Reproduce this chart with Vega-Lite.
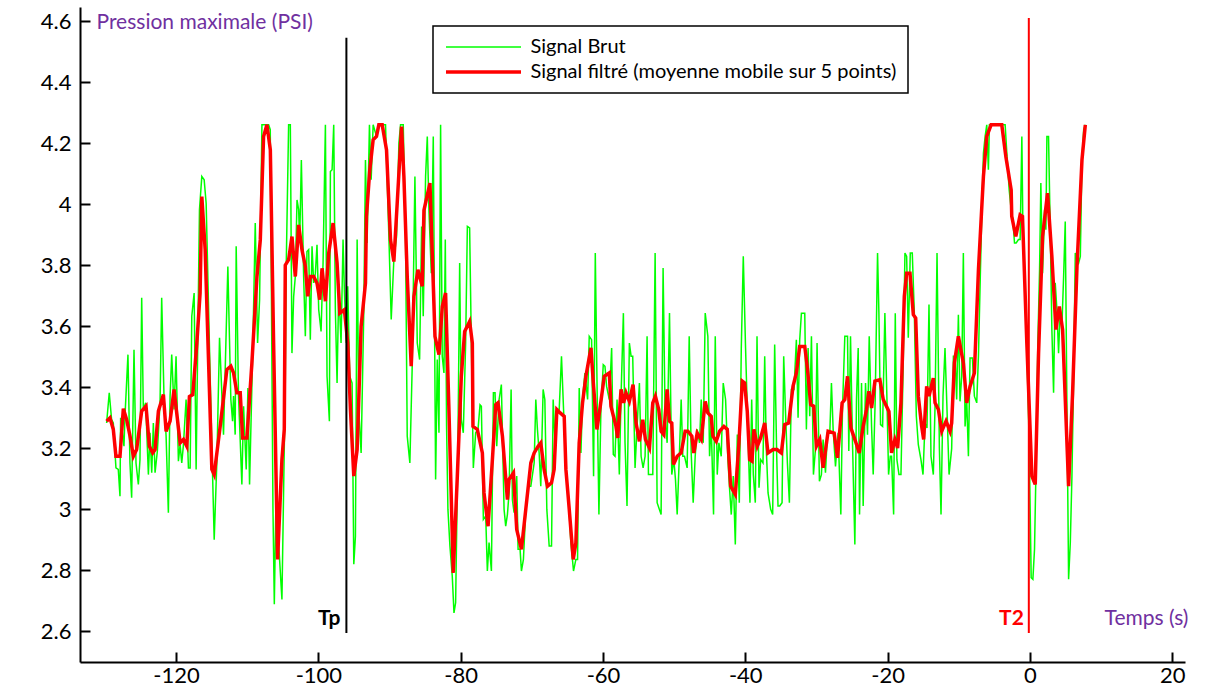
{
"$schema": "https://vega.github.io/schema/vega-lite/v6.json",
"width": 1105, "height": 655,
"autosize": {"type": "none"},
"padding": {"left": 80, "top": 7, "right": 39, "bottom": 32},
"background": "white",
"config": {"view": {"stroke": null}, "font": "Lato",
 "axis": {"grid": false, "domainColor": "black", "domainWidth": 2, "tickColor": "black", "tickWidth": 2, "tickSize": -10, "labelColor": "black", "labelFont": "Lato", "labelFontSize": 22, "labelOverlap": false, "labelFlush": false, "titleFont": "Lato", "titleFontWeight": "normal", "titleColor": "#7030A0", "titleFontSize": 21}},
"datasets": {
"brut": [
{"t":-129.76,"v":3.283},{"t":-129.39,"v":3.382},{"t":-129.06,"v":3.294},{"t":-128.82,"v":3.283},{"t":-128.45,"v":3.136},{"t":-128.12,"v":3.131},{"t":-127.88,"v":3.043},{"t":-127.79,"v":3.30},{"t":-127.32,"v":3.207},{"t":-127.18,"v":3.305},{"t":-126.76,"v":3.507},{"t":-126.48,"v":3.152},{"t":-126.24,"v":3.038},{"t":-125.91,"v":3.523},{"t":-125.63,"v":3.152},{"t":-125.30,"v":3.082},{"t":-125.07,"v":3.163},{"t":-124.83,"v":3.693},{"t":-124.60,"v":3.327},{"t":-124.27,"v":3.349},{"t":-123.89,"v":3.114},{"t":-123.66,"v":3.251},{"t":-123.42,"v":3.12},{"t":-123.19,"v":3.283},{"t":-122.95,"v":3.12},{"t":-122.63,"v":3.191},{"t":-122.25,"v":3.349},{"t":-122.02,"v":3.693},{"t":-121.69,"v":3.365},{"t":-121.40,"v":3.24},{"t":-121.08,"v":2.989},{"t":-120.84,"v":3.371},{"t":-120.61,"v":3.507},{"t":-120.28,"v":3.327},{"t":-120.00,"v":3.502},{"t":-119.67,"v":3.158},{"t":-119.43,"v":3.212},{"t":-119.20,"v":3.152},{"t":-118.96,"v":3.212},{"t":-118.59,"v":3.36},{"t":-118.26,"v":3.136},{"t":-118.02,"v":3.136},{"t":-117.79,"v":3.633},{"t":-117.46,"v":3.709},{"t":-117.18,"v":3.131},{"t":-116.71,"v":3.982},{"t":-116.38,"v":4.091},{"t":-116.05,"v":4.080},{"t":-115.77,"v":4.003},{"t":-115.21,"v":3.436},{"t":-114.64,"v":2.901},{"t":-114.27,"v":3.152},{"t":-113.89,"v":3.562},{"t":-113.33,"v":3.245},{"t":-112.72,"v":3.796},{"t":-112.30,"v":3.36},{"t":-112.06,"v":3.289},{"t":-111.92,"v":3.371},{"t":-111.69,"v":3.245},{"t":-111.55,"v":3.862},{"t":-111.22,"v":3.371},{"t":-110.75,"v":3.082},{"t":-110.51,"v":3.338},{"t":-110.14,"v":3.131},{"t":-109.90,"v":3.398},{"t":-109.67,"v":3.082},{"t":-109.20,"v":3.545},{"t":-108.87,"v":3.938},{"t":-108.54,"v":3.545},{"t":-108.26,"v":3.687},{"t":-107.93,"v":4.26},{"t":-107.46,"v":4.26},{"t":-106.99,"v":4.26},{"t":-106.76,"v":4.244},{"t":-106.38,"v":3.0},{"t":-106.19,"v":2.689},
{"t":-105.91,"v":3.109},{"t":-105.59,"v":2.891},{"t":-105.12,"v":2.705},{"t":-104.65,"v":3.414},{"t":-104.51,"v":3.807},{"t":-104.18,"v":4.26},{"t":-103.94,"v":4.26},{"t":-103.71,"v":3.512},{"t":-103.47,"v":3.698},{"t":-103.24,"v":3.763},{"t":-103.00,"v":4.014},{"t":-102.77,"v":3.982},{"t":-102.63,"v":3.873},{"t":-102.39,"v":4.145},{"t":-102.07,"v":3.763},{"t":-101.83,"v":3.567},{"t":-101.60,"v":3.845},{"t":-101.36,"v":3.851},{"t":-101.13,"v":3.556},{"t":-100.89,"v":3.862},{"t":-100.66,"v":3.742},{"t":-100.42,"v":3.774},{"t":-100.19,"v":3.867},{"t":-99.95,"v":3.654},{"t":-99.62,"v":3.583},{"t":-99.34,"v":3.807},{"t":-99.01,"v":4.26},{"t":-98.78,"v":3.436},{"t":-98.45,"v":3.289},{"t":-98.31,"v":4.107},{"t":-98.07,"v":4.113},{"t":-97.84,"v":4.26},{"t":-97.61,"v":3.654},{"t":-97.37,"v":3.414},{"t":-97.14,"v":3.72},{"t":-96.81,"v":3.545},{"t":-96.53,"v":3.884},{"t":-96.34,"v":3.714},{"t":-96.06,"v":3.545},{"t":-95.87,"v":3.731},{"t":-95.59,"v":3.436},{"t":-95.26,"v":3.414},{"t":-95.02,"v":2.82},{"t":-94.79,"v":2.912},{"t":-94.55,"v":3.884},{"t":-94.32,"v":3.327},{"t":-93.99,"v":3.185},{"t":-93.61,"v":3.654},{"t":-93.38,"v":4.145},{"t":-93.15,"v":3.873},{"t":-92.82,"v":4.26},{"t":-92.58,"v":4.080},{"t":-92.30,"v":4.26},{"t":-91.83,"v":4.222},{"t":-91.50,"v":4.26},{"t":-91.03,"v":4.26},{"t":-90.56,"v":4.26},{"t":-90.09,"v":3.894},{"t":-89.76,"v":3.622},{"t":-89.39,"v":3.818},{"t":-89.01,"v":3.894},{"t":-88.68,"v":4.2},{"t":-88.45,"v":4.26},{"t":-88.07,"v":4.26},{"t":-87.75,"v":3.894},{"t":-87.51,"v":3.24},{"t":-87.14,"v":3.152},{"t":-86.81,"v":3.469},{"t":-86.43,"v":4.091},{"t":-86.10,"v":3.545},{"t":-85.77,"v":3.491},{"t":-85.49,"v":3.927},{"t":-85.26,"v":3.633},{"t":-84.93,"v":4.091},{"t":-84.69,"v":4.222},{"t":-84.46,"v":3.982},{"t":-84.13,"v":3.774},{"t":-83.85,"v":4.222},{"t":-83.52,"v":3.098},{"t":-83.29,"v":3.491},{"t":-83.05,"v":3.251},{"t":-82.82,"v":4.26},
{"t":-82.59,"v":3.502},{"t":-82.35,"v":3.447},{"t":-82.16,"v":3.884},{"t":-81.98,"v":3.272},{"t":-81.79,"v":3.0},{"t":-81.51,"v":2.88},{"t":-81.18,"v":2.781},{"t":-80.94,"v":2.661},{"t":-80.71,"v":2.694},{"t":-80.38,"v":3.218},{"t":-80.14,"v":3.807},{"t":-79.91,"v":3.294},{"t":-79.63,"v":3.251},{"t":-79.30,"v":3.545},{"t":-79.06,"v":3.927},{"t":-78.74,"v":3.922},{"t":-78.50,"v":3.545},{"t":-78.22,"v":3.136},{"t":-77.89,"v":3.251},{"t":-77.56,"v":3.262},{"t":-77.28,"v":3.343},{"t":-77.09,"v":3.338},{"t":-76.81,"v":2.967},{"t":-76.48,"v":2.978},{"t":-76.25,"v":2.798},{"t":-76.01,"v":2.891},{"t":-75.68,"v":2.798},{"t":-75.40,"v":3.382},{"t":-75.17,"v":3.382},{"t":-74.93,"v":3.207},{"t":-74.60,"v":3.36},{"t":-74.28,"v":3.409},{"t":-73.90,"v":3.0},{"t":-73.67,"v":2.945},{"t":-73.43,"v":2.983},{"t":-73.20,"v":3.054},{"t":-72.91,"v":3.393},{"t":-72.73,"v":3.032},{"t":-72.49,"v":2.989},{"t":-72.12,"v":3.109},{"t":-71.93,"v":2.869},{"t":-71.65,"v":2.869},{"t":-71.46,"v":2.798},{"t":-71.18,"v":2.836},{"t":-70.85,"v":3.0},{"t":-70.52,"v":3.076},{"t":-70.14,"v":3.076},{"t":-69.67,"v":3.152},{"t":-69.44,"v":3.36},{"t":-69.21,"v":3.262},{"t":-68.97,"v":3.185},{"t":-68.74,"v":3.076},{"t":-68.41,"v":3.393},{"t":-68.17,"v":3.36},{"t":-67.89,"v":3.0},{"t":-67.56,"v":2.88},{"t":-67.23,"v":2.88},{"t":-67.00,"v":3.36},{"t":-66.76,"v":3.229},{"t":-66.48,"v":3.327},{"t":-66.15,"v":3.327},{"t":-65.83,"v":3.502},{"t":-65.54,"v":3.327},{"t":-65.21,"v":3.131},{"t":-64.89,"v":3.054},{"t":-64.51,"v":2.891},{"t":-64.14,"v":2.798},{"t":-63.81,"v":2.836},{"t":-63.57,"v":2.836},{"t":-63.34,"v":3.398},{"t":-63.10,"v":3.185},{"t":-62.87,"v":3.36},{"t":-62.54,"v":3.447},{"t":-62.16,"v":3.36},{"t":-61.93,"v":3.567},{"t":-61.60,"v":3.556},{"t":-61.32,"v":3.109},{"t":-61.08,"v":3.84},{"t":-60.85,"v":3.436},{"t":-60.57,"v":2.983},{"t":-60.29,"v":3.327},{"t":-59.96,"v":3.474},{"t":-59.72,"v":3.469},{"t":-59.49,"v":3.403},{"t":-59.11,"v":3.36},{"t":-58.78,"v":3.529},{"t":-58.55,"v":3.180},{"t":-58.31,"v":3.174},
{"t":-58.02,"v":3.36},{"t":-57.70,"v":3.114},{"t":-57.46,"v":3.371},{"t":-57.13,"v":3.643},{"t":-56.90,"v":3.218},{"t":-56.62,"v":3.011},{"t":-56.29,"v":3.545},{"t":-56.05,"v":3.502},{"t":-55.82,"v":3.502},{"t":-55.49,"v":3.136},{"t":-55.21,"v":3.272},{"t":-54.88,"v":3.414},{"t":-54.64,"v":3.174},{"t":-54.36,"v":3.136},{"t":-54.08,"v":3.174},{"t":-53.80,"v":3.567},{"t":-53.61,"v":3.114},{"t":-53.33,"v":3.114},{"t":-53.00,"v":3.114},{"t":-52.67,"v":3.84},{"t":-52.39,"v":3.022},{"t":-51.83,"v":2.983},{"t":-51.55,"v":3.791},{"t":-51.26,"v":3.294},{"t":-50.98,"v":3.218},{"t":-50.65,"v":3.643},{"t":-50.33,"v":3.114},{"t":-50.04,"v":3.163},{"t":-49.81,"v":3.098},{"t":-49.57,"v":2.983},{"t":-49.25,"v":3.185},{"t":-49.01,"v":3.36},{"t":-48.78,"v":3.174},{"t":-48.54,"v":3.174},{"t":-48.17,"v":3.136},{"t":-47.88,"v":3.567},{"t":-47.60,"v":3.185},{"t":-47.32,"v":3.022},{"t":-47.04,"v":3.174},{"t":-46.76,"v":3.262},{"t":-46.43,"v":3.218},{"t":-46.19,"v":3.36},{"t":-45.91,"v":3.218},{"t":-45.63,"v":3.643},{"t":-45.26,"v":3.567},{"t":-45.02,"v":3.174},{"t":-44.79,"v":3.283},{"t":-44.46,"v":2.983},{"t":-44.22,"v":3.567},{"t":-43.94,"v":3.114},{"t":-43.71,"v":3.218},{"t":-43.38,"v":3.174},{"t":-43.10,"v":3.414},{"t":-42.77,"v":3.36},{"t":-42.44,"v":3.163},{"t":-42.20,"v":3.065},{"t":-41.97,"v":2.983},{"t":-41.69,"v":3.109},{"t":-41.40,"v":2.885},{"t":-41.12,"v":3.245},{"t":-40.84,"v":3.022},{"t":-40.56,"v":3.529},{"t":-40.28,"v":3.829},{"t":-39.96,"v":3.529},{"t":-39.62,"v":3.245},{"t":-39.34,"v":3.022},{"t":-39.10,"v":3.36},{"t":-38.87,"v":3.114},{"t":-38.59,"v":3.022},{"t":-38.35,"v":3.567},{"t":-38.07,"v":3.071},{"t":-37.84,"v":3.163},{"t":-37.51,"v":3.152},{"t":-37.27,"v":3.502},{"t":-37.04,"v":3.196},{"t":-36.80,"v":3.054},{"t":-36.43,"v":3.0},{"t":-36.15,"v":2.983},{"t":-35.87,"v":3.54},{"t":-35.58,"v":3.174},{"t":-35.40,"v":3.011},{"t":-35.16,"v":3.011},{"t":-34.83,"v":3.022},{"t":-34.60,"v":3.502},{"t":-34.36,"v":3.327},
{"t":-34.08,"v":3.152},{"t":-33.80,"v":3.022},{"t":-33.52,"v":3.393},{"t":-33.15,"v":3.393},{"t":-32.82,"v":3.556},{"t":-32.58,"v":3.3},{"t":-32.35,"v":3.556},{"t":-32.11,"v":3.643},{"t":-31.64,"v":3.643},{"t":-31.41,"v":3.262},{"t":-31.17,"v":3.529},{"t":-30.94,"v":3.305},{"t":-30.70,"v":3.567},{"t":-30.42,"v":3.114},{"t":-30.14,"v":3.196},{"t":-29.91,"v":3.545},{"t":-29.58,"v":3.092},{"t":-29.30,"v":3.114},{"t":-29.06,"v":3.229},{"t":-28.73,"v":3.12},{"t":-28.45,"v":3.251},{"t":-28.12,"v":3.251},{"t":-27.89,"v":3.414},{"t":-27.65,"v":3.262},{"t":-27.32,"v":3.141},{"t":-26.95,"v":3.251},{"t":-26.57,"v":2.983},{"t":-26.34,"v":3.327},{"t":-26.01,"v":3.567},{"t":-25.63,"v":3.567},{"t":-25.45,"v":3.191},{"t":-25.21,"v":3.567},{"t":-24.93,"v":3.218},{"t":-24.60,"v":2.885},{"t":-24.37,"v":3.36},{"t":-24.13,"v":3.529},{"t":-23.94,"v":2.983},{"t":-23.66,"v":3.414},{"t":-23.43,"v":3.011},{"t":-23.10,"v":3.414},{"t":-22.82,"v":3.245},{"t":-22.58,"v":3.567},{"t":-22.25,"v":3.272},{"t":-22.02,"v":3.114},{"t":-21.74,"v":3.36},{"t":-21.41,"v":3.84},{"t":-21.22,"v":3.643},{"t":-20.99,"v":3.278},{"t":-20.70,"v":3.272},{"t":-20.38,"v":3.643},{"t":-20.09,"v":3.36},{"t":-19.86,"v":3.114},{"t":-19.62,"v":3.174},{"t":-19.44,"v":3.174},{"t":-19.15,"v":2.983},{"t":-18.92,"v":3.643},{"t":-18.69,"v":3.163},{"t":-18.40,"v":3.114},{"t":-18.12,"v":3.114},{"t":-17.79,"v":3.491},{"t":-17.56,"v":3.84},{"t":-17.32,"v":3.829},{"t":-17.09,"v":3.562},{"t":-16.81,"v":3.84},{"t":-16.53,"v":3.84},{"t":-16.24,"v":3.643},{"t":-15.96,"v":3.305},{"t":-15.68,"v":3.212},{"t":-15.31,"v":3.163},{"t":-15.02,"v":3.114},{"t":-14.74,"v":3.283},{"t":-14.46,"v":3.267},{"t":-14.18,"v":3.671},{"t":-13.90,"v":3.174},{"t":-13.57,"v":3.114},{"t":-13.33,"v":3.338},{"t":-13.05,"v":3.84},{"t":-12.72,"v":3.201},{"t":-12.49,"v":2.983},{"t":-12.21,"v":3.371},{"t":-11.93,"v":3.529},{"t":-11.64,"v":3.321},{"t":-11.36,"v":3.114},{"t":-10.99,"v":3.2},
{"t":-10.75,"v":3.502},{"t":-10.52,"v":3.502},{"t":-10.29,"v":3.36},{"t":-10.05,"v":3.638},{"t":-9.82,"v":3.354},{"t":-9.58,"v":3.436},{"t":-9.35,"v":3.84},{"t":-9.11,"v":3.272},{"t":-8.88,"v":3.36},{"t":-8.64,"v":3.174},{"t":-8.41,"v":3.496},{"t":-8.08,"v":3.496},{"t":-7.80,"v":3.371},{"t":-7.47,"v":3.349},{"t":-7.23,"v":3.502},{"t":-6.86,"v":3.873},{"t":-6.53,"v":4.167},{"t":-6.29,"v":4.222},{"t":-6.06,"v":4.26},{"t":-5.83,"v":4.113},{"t":-5.69,"v":4.26},{"t":-5.36,"v":4.26},{"t":-4.89,"v":4.26},{"t":-4.42,"v":4.26},{"t":-3.95,"v":4.26},{"t":-3.48,"v":4.26},{"t":-3.24,"v":4.167},{"t":-2.91,"v":4.047},{"t":-2.63,"v":3.982},{"t":-2.40,"v":3.949},{"t":-2.16,"v":3.873},{"t":-1.93,"v":3.873},{"t":-1.60,"v":3.884},{"t":-1.37,"v":3.884},{"t":-1.13,"v":4.222},{"t":-0.99,"v":3.938},{"t":-0.76,"v":3.785},{"t":-0.43,"v":3.523},{"t":-0.10,"v":3.218},{"t":0.18,"v":2.776},{"t":0.42,"v":2.771},{"t":0.65,"v":2.869},{"t":0.84,"v":3.109},{"t":1.12,"v":3.545},{"t":1.36,"v":3.785},{"t":1.54,"v":4.069},{"t":1.78,"v":3.774},{"t":2.06,"v":3.982},{"t":2.25,"v":3.916},{"t":2.39,"v":4.222},{"t":2.62,"v":4.222},{"t":2.86,"v":3.916},{"t":3.09,"v":3.589},{"t":3.33,"v":3.382},{"t":3.56,"v":3.742},{"t":3.80,"v":3.654},{"t":4.03,"v":3.512},{"t":4.27,"v":3.654},{"t":4.50,"v":3.6},{"t":4.74,"v":3.763},{"t":4.97,"v":3.943},{"t":5.21,"v":3.327},{"t":5.44,"v":2.771},{"t":5.68,"v":2.891},{"t":5.91,"v":3.109},{"t":6.15,"v":3.436},{"t":6.38,"v":3.84},{"t":6.62,"v":3.818},{"t":6.85,"v":3.807},{"t":7.09,"v":3.829},{"t":7.32,"v":4.145},{"t":7.56,"v":4.244},{"t":7.79,"v":4.26}
],
"filt": [
{"t":-129.76,"v":3.289},{"t":-129.29,"v":3.30},{"t":-128.82,"v":3.262},{"t":-128.45,"v":3.174},{"t":-127.88,"v":3.174},{"t":-127.41,"v":3.33},{"t":-126.94,"v":3.294},{"t":-126.47,"v":3.24},{"t":-126.0,"v":3.174},{"t":-125.54,"v":3.196},{"t":-124.83,"v":3.322},{"t":-124.22,"v":3.338},{"t":-123.75,"v":3.207},{"t":-123.28,"v":3.185},{"t":-122.95,"v":3.196},{"t":-122.48,"v":3.322},{"t":-121.78,"v":3.376},{"t":-121.40,"v":3.256},{"t":-120.84,"v":3.289},{"t":-120.28,"v":3.393},{"t":-119.43,"v":3.218},{"t":-118.96,"v":3.229},{"t":-118.49,"v":3.207},{"t":-118.12,"v":3.37},{"t":-117.65,"v":3.376},{"t":-117.08,"v":3.545},{"t":-116.62,"v":3.709},{"t":-116.38,"v":4.025},{"t":-115.91,"v":3.851},{"t":-114.97,"v":3.131},{"t":-114.64,"v":3.114},{"t":-113.80,"v":3.272},{"t":-112.86,"v":3.458},{"t":-112.30,"v":3.469},{"t":-111.92,"v":3.447},{"t":-111.45,"v":3.382},{"t":-110.98,"v":3.382},{"t":-110.65,"v":3.234},{"t":-110.04,"v":3.234},{"t":-109.34,"v":3.48},{"t":-108.63,"v":3.763},{"t":-108.16,"v":3.883},{"t":-107.70,"v":4.222},{"t":-107.23,"v":4.26},{"t":-106.75,"v":4.178},
{"t":-106.29,"v":3.545},{"t":-105.73,"v":2.836},{"t":-105.12,"v":3.163},{"t":-104.79,"v":3.262},{"t":-104.65,"v":3.80},{"t":-104.18,"v":3.818},{"t":-103.71,"v":3.894},{"t":-103.24,"v":3.763},{"t":-102.77,"v":3.932},{"t":-102.30,"v":3.85},{"t":-101.83,"v":3.796},{"t":-101.50,"v":3.698},{"t":-101.13,"v":3.763},{"t":-100.66,"v":3.763},{"t":-100.19,"v":3.741},{"t":-99.81,"v":3.687},{"t":-99.48,"v":3.79},{"t":-99.01,"v":3.682},{"t":-98.54,"v":3.84},{"t":-97.93,"v":3.938},{"t":-97.37,"v":3.807},{"t":-96.99,"v":3.643},{"t":-96.34,"v":3.654},{"t":-95.87,"v":3.545},{"t":-95.49,"v":3.327},{"t":-95.02,"v":3.109},{"t":-94.55,"v":3.196},{"t":-93.99,"v":3.60},{"t":-93.38,"v":3.741},{"t":-93.24,"v":3.96},{"t":-92.77,"v":4.113},{"t":-92.30,"v":4.211},{"t":-91.83,"v":4.222},{"t":-91.50,"v":4.26},{"t":-91.03,"v":4.26},{"t":-90.42,"v":4.178},{"t":-89.86,"v":3.883},{"t":-89.39,"v":3.812},{"t":-88.92,"v":4.003},{"t":-88.31,"v":4.254},{"t":-87.98,"v":4.091},{"t":-87.51,"v":3.763},{"t":-86.95,"v":3.469},{"t":-86.57,"v":3.698},{"t":-86.01,"v":3.785},{"t":-85.40,"v":3.731},{"t":-85.16,"v":3.98},{"t":-84.32,"v":4.069},{"t":-83.61,"v":3.567},{"t":-83.05,"v":3.507},{"t":-82.58,"v":3.665},
{"t":-82.12,"v":3.709},{"t":-81.65,"v":3.327},{"t":-81.04,"v":2.792},{"t":-80.47,"v":3.109},{"t":-79.91,"v":3.436},{"t":-79.44,"v":3.583},{"t":-78.74,"v":3.616},{"t":-78.36,"v":3.545},{"t":-78.27,"v":3.272},{"t":-77.66,"v":3.262},{"t":-76.95,"v":3.185},{"t":-76.72,"v":3.054},{"t":-76.15,"v":2.945},{"t":-75.54,"v":3.163},{"t":-75.07,"v":3.343},{"t":-74.75,"v":3.349},{"t":-74.13,"v":3.24},{"t":-73.43,"v":3.032},{"t":-73.20,"v":3.098},{"t":-72.58,"v":3.12},{"t":-72.12,"v":2.934},{"t":-71.46,"v":2.869},{"t":-70.85,"v":3.0},{"t":-70.14,"v":3.152},{"t":-69.67,"v":3.185},{"t":-69.11,"v":3.207},{"t":-68.74,"v":3.218},{"t":-68.27,"v":3.131},{"t":-67.80,"v":3.076},{"t":-67.23,"v":3.087},{"t":-66.86,"v":3.131},{"t":-66.48,"v":3.327},{"t":-66.01,"v":3.316},{"t":-65.45,"v":3.305},{"t":-65.21,"v":3.131},{"t":-64.74,"v":3.0},{"t":-64.18,"v":2.836},{"t":-63.81,"v":2.89},{"t":-63.34,"v":3.218},{"t":-62.87,"v":3.349},{"t":-62.40,"v":3.436},{"t":-61.69,"v":3.529},{"t":-61.32,"v":3.403},{"t":-60.85,"v":3.262},{"t":-60.38,"v":3.338},{"t":-59.82,"v":3.436},{"t":-59.11,"v":3.447},{"t":-58.88,"v":3.338},
{"t":-58.17,"v":3.272},{"t":-57.93,"v":3.234},{"t":-57.46,"v":3.393},{"t":-57.09,"v":3.349},{"t":-56.76,"v":3.382},{"t":-56.29,"v":3.354},{"t":-55.77,"v":3.409},{"t":-55.35,"v":3.283},{"t":-54.88,"v":3.223},{"t":-54.41,"v":3.294},{"t":-54.03,"v":3.229},{"t":-53.47,"v":3.201},{"t":-53.00,"v":3.349},{"t":-52.63,"v":3.371},{"t":-52.16,"v":3.327},{"t":-51.83,"v":3.256},{"t":-51.45,"v":3.245},{"t":-50.98,"v":3.393},{"t":-50.65,"v":3.289},{"t":-50.33,"v":3.283},{"t":-50.09,"v":3.147},{"t":-49.57,"v":3.174},{"t":-49.01,"v":3.185},{"t":-48.45,"v":3.256},{"t":-48.07,"v":3.256},{"t":-47.51,"v":3.24},{"t":-47.23,"v":3.185},{"t":-46.76,"v":3.25},{"t":-46.19,"v":3.229},{"t":-45.63,"v":3.354},{"t":-45.26,"v":3.316},{"t":-44.79,"v":3.305},{"t":-44.55,"v":3.24},{"t":-44.08,"v":3.223},{"t":-43.61,"v":3.256},{"t":-43.00,"v":3.272},{"t":-42.53,"v":3.262},{"t":-42.06,"v":3.076},{"t":-41.40,"v":3.049},{"t":-40.89,"v":3.218},{"t":-40.42,"v":3.42},{"t":-40.09,"v":3.414},{"t":-39.72,"v":3.321},{"t":-39.39,"v":3.163},{"t":-39.06,"v":3.158},{"t":-38.78,"v":3.262},{"t":-38.31,"v":3.207},{"t":-37.84,"v":3.234},{"t":-37.27,"v":3.283},{"t":-36.81,"v":3.185},{"t":-36.10,"v":3.196},{"t":-35.54,"v":3.196},{"t":-34.93,"v":3.185},
{"t":-34.46,"v":3.278},{"t":-33.90,"v":3.283},{"t":-33.29,"v":3.403},{"t":-32.82,"v":3.447},{"t":-32.35,"v":3.534},{"t":-31.64,"v":3.534},{"t":-31.27,"v":3.463},{"t":-30.80,"v":3.343},{"t":-30.38,"v":3.338},{"t":-30.00,"v":3.207},{"t":-29.53,"v":3.229},{"t":-29.06,"v":3.136},{"t":-28.36,"v":3.256},{"t":-27.51,"v":3.25},{"t":-27.04,"v":3.169},{"t":-26.39,"v":3.349},{"t":-26.01,"v":3.36},{"t":-25.63,"v":3.436},{"t":-25.16,"v":3.267},{"t":-24.51,"v":3.223},{"t":-23.99,"v":3.185},{"t":-23.43,"v":3.272},{"t":-22.96,"v":3.327},{"t":-22.63,"v":3.387},{"t":-22.25,"v":3.332},{"t":-21.78,"v":3.42},{"t":-21.08,"v":3.425},{"t":-20.61,"v":3.36},{"t":-19.81,"v":3.321},{"t":-19.44,"v":3.185},{"t":-18.97,"v":3.229},{"t":-18.59,"v":3.201},{"t":-18.12,"v":3.349},{"t":-17.65,"v":3.698},{"t":-17.32,"v":3.774},{"t":-16.85,"v":3.774},{"t":-16.38,"v":3.638},{"t":-16.05,"v":3.627},{"t":-15.68,"v":3.371},{"t":-15.21,"v":3.272},{"t":-14.93,"v":3.229},{"t":-14.51,"v":3.403},{"t":-14.18,"v":3.371},{"t":-13.57,"v":3.43},{"t":-13.33,"v":3.349},{"t":-12.86,"v":3.327},{"t":-12.39,"v":3.256},{"t":-11.78,"v":3.289},{"t":-11.22,"v":3.256},
{"t":-10.99,"v":3.283},{"t":-10.61,"v":3.48},{"t":-10.05,"v":3.567},{"t":-9.35,"v":3.48},{"t":-8.88,"v":3.349},{"t":-8.41,"v":3.403},{"t":-7.80,"v":3.447},{"t":-7.23,"v":3.785},{"t":-6.53,"v":4.091},{"t":-6.06,"v":4.222},{"t":-5.45,"v":4.26},{"t":-3.95,"v":4.26},{"t":-3.38,"v":4.156},{"t":-2.63,"v":4.047},{"t":-2.55,"v":3.96},{"t":-1.98,"v":3.894},{"t":-1.37,"v":3.965},{"t":-1.04,"v":3.96},{"t":-0.43,"v":3.545},{"t":0.28,"v":3.109},{"t":0.75,"v":3.082},{"t":1.22,"v":3.512},{"t":1.78,"v":3.894},{"t":2.48,"v":4.036},{"t":3.09,"v":3.829},{"t":3.66,"v":3.589},{"t":4.13,"v":3.665},{"t":4.60,"v":3.589},{"t":5.44,"v":3.076},{"t":6.00,"v":3.38},{"t":6.62,"v":3.796},{"t":7.32,"v":4.145},{"t":7.79,"v":4.26}
]},
"layer": [
{"data": {"name": "brut"}, "mark": {"type": "line", "strokeWidth": 1.5},
 "encoding": {
  "x": {"field": "t", "type": "quantitative", "scale": {"domain": [-133.5, 21.8], "nice": false, "zero": false},
   "axis": {"values": [-120,-100,-80,-60,-40,-20,0,20], "labelExpr": "'' + datum.value", "labelPadding": 13, "title": "Temps (s)", "titleX": 1066, "titleY": -44, "titleAlign": "center", "titleBaseline": "middle", "titleAngle": 0}},
  "y": {"field": "v", "type": "quantitative", "scale": {"domain": [2.5, 4.646], "nice": false, "zero": false},
   "axis": {"values": [2.6,2.8,3,3.2,3.4,3.6,3.8,4,4.2,4.4,4.6], "labelExpr": "'' + datum.value", "labelPadding": 19, "title": "Pression maximale (PSI)", "titleX": 16, "titleY": 15, "titleAlign": "left", "titleBaseline": "middle", "titleAngle": 0}},
  "color": {"datum": "Signal Brut", "type": "nominal",
   "scale": {"domain": ["Signal Brut", "Signal filtré (moyenne mobile sur 5 points)"], "range": ["#00FF00", "#FF0000"]},
   "legend": {"title": null, "orient": "none", "legendX": 353, "legendY": 19, "direction": "vertical", "strokeColor": "black", "fillColor": "white", "padding": 11, "symbolType": "stroke", "symbolSize": 5625, "symbolStrokeWidth": 2, "symbolOffset": 29.5, "labelFont": "Lato", "labelFontSize": 20, "labelColor": "black", "labelOffset": 37, "labelLimit": 0, "rowPadding": 5,
    "encode": {"legend": {"update": {"strokeWidth": {"value": 1.5}}}, "symbols": {"update": {"strokeWidth": {"signal": "datum.value === 'Signal Brut' ? 1.5 : 3.5"}}}}}}
 }},
{"data": {"name": "filt"}, "mark": {"type": "line", "strokeWidth": 3.5},
 "encoding": {"x": {"field": "t", "type": "quantitative"}, "y": {"field": "v", "type": "quantitative"}, "color": {"datum": "Signal filtré (moyenne mobile sur 5 points)", "type": "nominal"}}},
{"data": {"values": [{"t": -96.06, "lo": 2.595, "hi": 4.545}]}, "mark": {"type": "rule", "color": "black", "strokeWidth": 2},
 "encoding": {"x": {"field": "t", "type": "quantitative"}, "y": {"field": "lo", "type": "quantitative"}, "y2": {"field": "hi"}}},
{"data": {"values": [{"t": -0.15, "lo": 2.595, "hi": 4.61}]}, "mark": {"type": "rule", "color": "#FF0000", "strokeWidth": 2},
 "encoding": {"x": {"field": "t", "type": "quantitative"}, "y": {"field": "lo", "type": "quantitative"}, "y2": {"field": "hi"}}},
{"data": {"values": [{"t": -96.06, "n": "Tp"}]}, "mark": {"type": "text", "align": "right", "baseline": "middle", "dx": -6, "font": "Lato", "fontSize": 21, "fontWeight": "bold", "color": "black"},
 "encoding": {"x": {"field": "t", "type": "quantitative"}, "y": {"datum": 2.64, "type": "quantitative"}, "text": {"field": "n"}}},
{"data": {"values": [{"t": -0.15, "n": "T2"}]}, "mark": {"type": "text", "align": "right", "baseline": "middle", "dx": -5, "font": "Lato", "fontSize": 21, "fontWeight": "bold", "color": "#FF0000"},
 "encoding": {"x": {"field": "t", "type": "quantitative"}, "y": {"datum": 2.64, "type": "quantitative"}, "text": {"field": "n"}}}
]
}
